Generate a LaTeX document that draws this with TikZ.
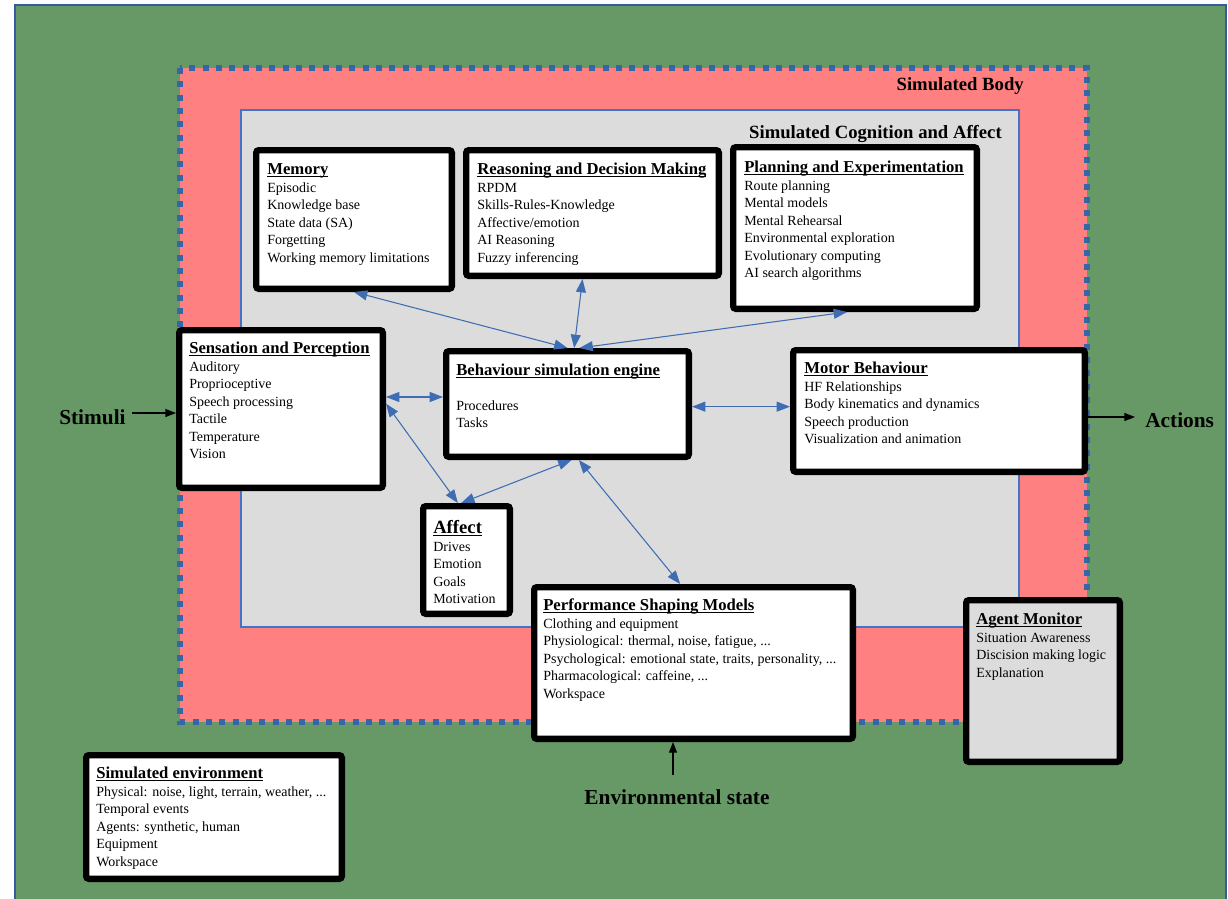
\documentclass[tikz,border=0pt]{standalone}
\usepackage{fontspec}
\setmainfont{Liberation Serif}
\usetikzlibrary{arrows.meta,fit,calc}
\definecolor{envgreen}{HTML}{669966}
\definecolor{bodypink}{HTML}{FF8080}
\definecolor{coggray}{HTML}{DCDCDC}
\definecolor{linkblue}{HTML}{3F6DB3}
\definecolor{dotblue}{HTML}{3566A8}
\definecolor{edgeblue}{HTML}{4472C4}

% underlined bold heading of a component box
\newsavebox\ttlbox
\newcommand\ttl[2][12.5]{\sbox\ttlbox{\fontsize{#1}{13.1}\selectfont\bfseries #2}\rule{0pt}{10.5pt}\rlap{\rule[-1.8pt]{\wd\ttlbox}{0.8pt}}\usebox\ttlbox}

\begin{document}
\begin{tikzpicture}[x=0.75pt,y=-0.75pt,
  box/.style={draw=black, line width=4.8pt, fill=white, rounded corners=2pt, inner sep=-2.4pt},
  txt/.style={anchor=north west, inner sep=0pt, align=left, font=\fontsize{10.5}{13.1}\selectfont},
  big/.style={inner sep=0pt, font=\fontsize{14}{16}\selectfont\bfseries},
  huge/.style={inner sep=0pt, font=\fontsize{16}{18}\selectfont\bfseries},
  link/.style={draw=linkblue, line width=0.8pt, {Triangle[length=10pt,width=7.5pt]}-{Triangle[length=10pt,width=7.5pt]}},
  feed/.style={draw=black, line width=1pt, -{Triangle[length=8pt,width=6pt]}},
]
% page and nested regions
\fill[white] (0,0) rectangle (1228,899);
\useasboundingbox (0,0) rectangle (1228,899);
\fill[envgreen] (15,5) rectangle (1226,899);
\draw[edgeblue!80!black, line width=0.8pt] (15,899) -- (15,5) -- (1226,5) -- (1226,899);
\fill[bodypink] (180,68) rectangle (1087,722);
\filldraw[fill=coggray, draw=edgeblue, line width=0.8pt] (241,110) rectangle (1019,627);
\draw[dotblue, line width=4pt, dash pattern=on 4.5pt off 5.5pt] (180,68) rectangle (1087,722);

% region titles and external signals
\node[big, anchor=base east] (bodyL) at (1024,91) {Simulated Body};
\node[big, anchor=base east] (cogL) at (1002,138) {Simulated Cognition and Affect};
\node[huge, anchor=base west] (stimL) at (59,424) {Stimuli};
\node[huge, anchor=base west] (actL) at (1145,427) {Actions};
\node[huge, anchor=base] (envL) at (677,804) {Environmental state};

% component boxes
\node[box, fit={(253,147)(455,292)}] (mem) {};
\node[box, fit={(463,147)(722,279)}] (rea) {};
\node[box, fit={(730,144)(980,312)}] (pla) {};
\node[box, fit={(176,327)(386,491)}] (sens) {};
\node[box, fit={(443,348)(692,460)}] (beh) {};
\node[box, fit={(790,347)(1088,475)}] (mot) {};
\node[box, fit={(420,503)(513,617)}] (aff) {};
\node[box, fit={(531,584)(856,742)}] (psm) {};
\node[box, fill=coggray, fit={(963,597)(1123,765)}] (agm) {};
\node[box, fit={(83,752)(345,882)}] (env) {};

% box contents
\node[txt] (memT) at (267,160.5) {\ttl{Memory}\\ Episodic\\ Knowledge base\\ State data (SA)\\ Forgetting\\ Working memory limitations};
\node[txt] (reaT) at (477,160.5) {\ttl{Reasoning and Decision Making}\\ RPDM\\ Skills-Rules-Knowledge\\ Affective/emotion\\ AI Reasoning\\ Fuzzy inferencing};
\node[txt] (plaT) at (744,158.5) {\ttl{Planning and Experimentation}\\ Route planning\\ Mental models\\ Mental Rehearsal\\ Environmental exploration\\ Evolutionary computing\\ AI search algorithms};
\node[txt] (sensT) at (189,339.5) {\ttl{Sensation and Perception}\\ Auditory\\ Proprioceptive\\ Speech processing\\ Tactile\\ Temperature\\ Vision};
\node[txt] (behT) at (456,361) {\ttl{Behaviour simulation engine}\\[13.1pt] Procedures\\ Tasks};
\node[txt] (motT) at (804,359.5) {\ttl{Motor Behaviour}\\ HF Relationships\\ Body kinematics and dynamics\\ Speech production\\ Visualization and animation};
\node[txt] (affT) at (433,519.5) {\ttl[14]{Affect}\\ Drives\\ Emotion\\ Goals\\ Motivation};
\node[txt] (psmT) at (543,596.5) {\ttl{Performance Shaping Models}\\ Clothing and equipment\\ Physiological: thermal, noise, fatigue, ...\\ Psychological: emotional state, traits, personality, ...\\ Pharmacological: caffeine, ...\\ Workspace};
\node[txt] (agmT) at (976,610.5) {\ttl{Agent Monitor}\\ Situation Awareness\\ Discision making logic\\ Explanation};
\node[txt] (envT) at (96,764.5) {\ttl{Simulated environment}\\ Physical: noise, light, terrain, weather, ...\\ Temporal events\\ Agents: synthetic, human\\ Equipment\\ Workspace};

% links between components
\draw[link] (mem.south) -- (beh.north);
\draw[link] ([xshift=-7.5pt]rea.south) -- ([xshift=5pt]beh.north);
\draw[link] ([xshift=-6pt]pla.south) -- ([xshift=9pt]beh.north);
\coordinate (s4) at ([yshift=9pt]sens.east);
\draw[link] (s4) -- (s4 -| beh.west);
\draw[link] ([yshift=4pt]sens.east) -- ([xshift=-6.5pt]aff.north);
\draw[link] ([xshift=3pt]beh.south) -- ([xshift=-4pt]aff.north);
\draw[link] ([xshift=8.5pt]beh.south) -- ([xshift=-10pt]psm.north);
\coordinate (b8) at ([yshift=-2pt]beh.east);
\draw[link] (b8) -- (b8 -| mot.west);

% inputs and outputs
\coordinate (stimA) at (132,413);
\draw[feed] (stimA) -- (stimA -| sens.west);
\coordinate (actA) at (1135,417);
\draw[feed] (actA -| mot.east) -- (actA);
\coordinate (envA) at (673,775);
\draw[feed] (envA) -- (envA |- psm.south);
\end{tikzpicture}
\end{document}
